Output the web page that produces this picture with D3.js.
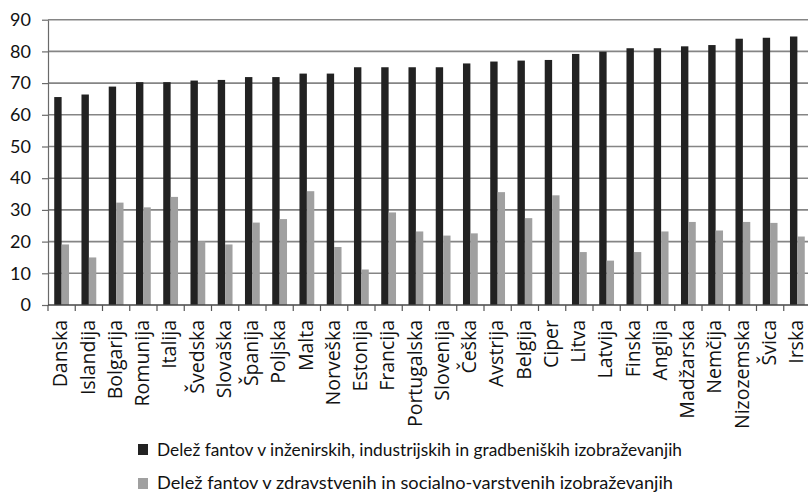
<!DOCTYPE html>
<html>
<head>
<meta charset="utf-8">
<script src="https://cdn.jsdelivr.net/npm/d3@7"></script>
<style>
  html, body { margin: 0; padding: 0; background: #fff; }
  svg { display: block; }
</style>
</head>
<body>
<svg id="chart" width="808" height="494"></svg>
<script>
// Countries, ordered by the engineering share
const countries = ["Danska", "Islandija", "Bolgarija", "Romunija", "Italija", "Švedska", "Slovaška", "Španija",
  "Poljska", "Malta", "Norveška", "Estonija", "Francija", "Portugalska", "Slovenija", "Češka", "Avstrija",
  "Belgija", "Ciper", "Litva", "Latvija", "Finska", "Anglija", "Madžarska", "Nemčija", "Nizozemska", "Švica", "Irska"];

// Share of boys in engineering, manufacturing and construction programmes (%)
const engineering = [65.6, 66.4, 68.9, 70.3, 70.3, 70.8, 71.0, 71.9,
  71.9, 73.0, 73.0, 75.0, 75.0, 75.0, 75.0, 76.2, 76.8,
  77.1, 77.3, 79.2, 79.9, 81.0, 81.0, 81.6, 82.0, 84.0, 84.3, 84.7];

// Share of boys in health and welfare programmes (%)
const health = [19.1, 15.0, 32.3, 30.8, 34.1, 20.1, 19.1, 26.0,
  27.1, 35.9, 18.3, 11.2, 29.2, 23.2, 21.9, 22.6, 35.6,
  27.4, 34.6, 16.7, 14.0, 16.7, 23.2, 26.2, 23.5, 26.2, 25.9, 21.6];

const yTicks = [0, 10, 20, 30, 40, 50, 60, 70, 80, 90];

const seriesNames = [
  "Delež fantov v inženirskih, industrijskih in gradbeniških izobraževanjih",
  "Delež fantov v zdravstvenih in socialno-varstvenih izobraževanjih"
];
const seriesColors = ["#222222", "#a0a0a0"];

const svg = d3.select("#chart");
const plotLeft = 48, plotRight = 811, plotTop = 19.7, plotBottom = 305;

const x0 = d3.scaleBand().domain(countries).range([plotLeft, plotRight])
  .paddingInner(0.457).paddingOuter(0.2285);
const x1 = d3.scaleBand().domain([0, 1]).range([0, x0.bandwidth()]);
const y = d3.scaleLinear().domain([0, 90]).range([plotBottom, plotTop]);

// horizontal gridlines
svg.append("g")
  .selectAll("line")
  .data(yTicks.filter(t => t > 0))
  .join("line")
  .attr("x1", plotLeft).attr("x2", 808)
  .attr("y1", d => y(d)).attr("y2", d => y(d))
  .attr("stroke", "#858585").attr("stroke-width", 1.6);

// y axis
const yAxis = d3.axisLeft(y).tickValues(yTicks).tickSize(6).tickPadding(11).tickSizeOuter(0);
const gy = svg.append("g").attr("transform", `translate(${plotLeft},0)`).call(yAxis);
gy.select(".domain").attr("stroke", "#6a6a6a").attr("stroke-width", 1.2);
gy.selectAll(".tick line").attr("stroke", "#6a6a6a").attr("stroke-width", 1.2);
gy.selectAll(".tick text")
  .attr("font-family", "Lato, 'Open Sans', sans-serif")
  .attr("font-size", 18)
  .attr("fill", "#111");

// bars
const groups = svg.append("g")
  .selectAll("g")
  .data(countries.map((c, i) => ({ c, vals: [engineering[i], health[i]] })))
  .join("g")
  .attr("transform", d => `translate(${x0(d.c)},0)`);

groups.selectAll("rect")
  .data(d => d.vals.map((v, k) => ({ v, k })))
  .join("rect")
  .attr("x", d => x1(d.k))
  .attr("width", x1.bandwidth())
  .attr("y", d => y(d.v))
  .attr("height", d => y(0) - y(d.v))
  .attr("fill", d => seriesColors[d.k]);

// x axis line and category boundary ticks
const step = x0.step();
const boundaries = d3.range(countries.length + 1).map(i => plotLeft + i * step);
svg.append("line")
  .attr("x1", plotLeft).attr("x2", 808)
  .attr("y1", plotBottom).attr("y2", plotBottom)
  .attr("stroke", "#444").attr("stroke-width", 1.3);
svg.append("g")
  .selectAll("line")
  .data(boundaries)
  .join("line")
  .attr("x1", d => d).attr("x2", d => d)
  .attr("y1", plotBottom).attr("y2", plotBottom + 6)
  .attr("stroke", "#555").attr("stroke-width", 1.2);

// category labels, rotated
svg.append("g")
  .selectAll("text")
  .data(countries)
  .join("text")
  .attr("transform", d => `translate(${x0(d) + x0.bandwidth() / 2},320) rotate(-90)`)
  .attr("text-anchor", "end")
  .attr("dy", "0.3em")
  .attr("font-family", "'Open Sans', sans-serif")
  .attr("font-size", 19.5)
  .attr("fill", "#111")
  .text(d => d);

// legend
const legend = svg.append("g");
const legendRows = [{ y: 444, base: 456, len: 525 }, { y: 478, base: 489, len: 516 }];
seriesNames.forEach((name, k) => {
  const r = legendRows[k];
  legend.append("rect")
    .attr("x", 138).attr("y", r.y).attr("width", 10).attr("height", 11)
    .attr("fill", seriesColors[k]);
  legend.append("text")
    .attr("x", 157).attr("y", r.base)
    .attr("font-family", "Lato, 'Open Sans', sans-serif")
    .attr("font-size", 17)
    .attr("fill", "#111")
    .attr("textLength", r.len)
    .attr("lengthAdjust", "spacingAndGlyphs")
    .text(name);
});
</script>
</body>
</html>
